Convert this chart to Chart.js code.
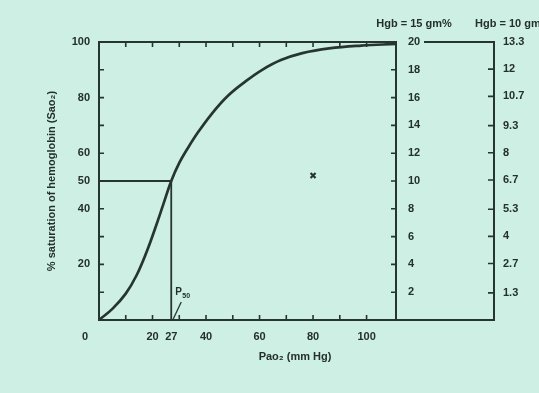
<!DOCTYPE html>
<html><head><meta charset="utf-8">
<script src="https://cdn.jsdelivr.net/npm/chart.js@4.4.1/dist/chart.umd.min.js"></script>
<style>html,body{margin:0;padding:0;background:#ceefe4;}#wrap{width:539px;height:393px;position:relative;}</style>
</head><body><div id="wrap"><canvas id="c"></canvas></div>
<script>
// ---- data ----
const po2 =        [0, 5, 10, 14, 18, 21, 24, 27, 30, 33, 37, 42, 48, 55, 61, 68, 76, 86, 98, 111];
const saturation = [0, 4, 9.5, 16, 25, 33, 41.5, 50, 56.5, 61.5, 67.5, 74, 80.5, 86, 90, 93.5, 96, 97.7, 98.7, 99.3];
const p50 = 27;
const halfSat = 50;
const xTickValues = [0, 20, 27, 40, 60, 80, 100];
const xMinorTicks = [10, 20, 30, 40, 50, 60, 70, 80, 90, 100];
const yTickValues = [20, 40, 50, 60, 80, 100];
const yMinorTicks = [10, 20, 30, 40, 50, 60, 70, 80, 90];
const hgb15Ticks = [2, 4, 6, 8, 10, 12, 14, 16, 18, 20];
const hgb10Ticks = [1.3, 2.7, 4, 5.3, 6.7, 8, 9.3, 10.7, 12, 13.3];
const markX = [80];
const markY = [52];

const ink = '#27352f';
const txt = '#24302c';
const FAM = '"Liberation Sans", Arial, sans-serif';
const tickFont = {family: FAM, size: 11, weight: 'bold'};

const decor = {
  id: 'decor',
  beforeDraw(chart) {
    const c = chart.ctx; c.save(); c.fillStyle = '#ceefe4'; c.fillRect(0, 0, chart.width, chart.height); c.restore();
  },
  afterDraw(chart) {
    const {ctx, chartArea: a, scales} = chart;
    const x = scales.x, y = scales.y, y15 = scales.y15, y10 = scales.y10;
    ctx.save();
    ctx.strokeStyle = ink; ctx.lineCap = 'square';
    ctx.lineWidth = 2;
    ctx.strokeRect(a.left, a.top, a.right - a.left, a.bottom - a.top);
    ctx.beginPath();
    ctx.moveTo(a.right, a.bottom); ctx.lineTo(y10.left, a.bottom);
    ctx.moveTo(y15.left + 29, a.top); ctx.lineTo(y10.left, a.top);
    ctx.stroke();
    ctx.lineWidth = 1.6; ctx.lineCap = 'butt';
    ctx.beginPath();
    xMinorTicks.forEach(v => {
      const px = x.getPixelForValue(v);
      ctx.moveTo(px, a.bottom); ctx.lineTo(px, a.bottom - 5);
      ctx.moveTo(px, a.top); ctx.lineTo(px, a.top + 5);
    });
    yMinorTicks.forEach(v => {
      const py = y.getPixelForValue(v);
      ctx.moveTo(a.left, py); ctx.lineTo(a.left + 5, py);
    });
    hgb15Ticks.slice(0, -1).forEach(v => {
      const py = y15.getPixelForValue(v);
      ctx.moveTo(y15.left, py); ctx.lineTo(y15.left - 5, py);
    });
    hgb10Ticks.slice(0, -1).forEach(v => {
      const py = y10.getPixelForValue(v);
      ctx.moveTo(y10.left, py); ctx.lineTo(y10.left - 6, py);
    });
    ctx.stroke();

    // texts
    ctx.fillStyle = txt;
    ctx.font = 'bold 11px ' + FAM;
    ctx.textBaseline = 'middle';
    ctx.textAlign = 'center';
    ctx.fillText('Hgb = 15 gm%', y15.left + 18, 24);
    ctx.textAlign = 'left';
    ctx.fillText('Hgb = 10 gm%', y10.left - 19, 24);
    ctx.textAlign = 'center';
    ctx.fillText(String(xTickValues[0]), x.getPixelForValue(xTickValues[0]) - 14, a.bottom + 17);

    // P50 label with pointer
    const px27 = x.getPixelForValue(p50), py0 = y.getPixelForValue(0);
    ctx.textBaseline = 'alphabetic'; ctx.textAlign = 'left';
    ctx.font = 'bold 10px ' + FAM;
    ctx.fillText('P', px27 + 4, py0 - 25);
    ctx.font = 'bold 7px ' + FAM;
    ctx.fillText('50', px27 + 11, py0 - 22);
    ctx.lineWidth = 1.3;
    ctx.beginPath();
    ctx.moveTo(px27 + 2, py0 - 1); ctx.lineTo(px27 + 10, py0 - 18);
    ctx.stroke();
    ctx.restore();
  }
};

new Chart(document.getElementById('c'), {
  type: 'scatter',
  data: {
    datasets: [
      {data: po2.map((v, i) => ({x: v, y: saturation[i]})), showLine: true, borderColor: ink, borderWidth: 2.7,
       pointRadius: 0, tension: 0.4, fill: false},
      {data: [{x: 0, y: halfSat}, {x: p50, y: halfSat}, {x: p50, y: 0}], showLine: true, borderColor: ink,
       borderWidth: 1.8, pointRadius: 0, tension: 0},
      {data: markX.map((v, i) => ({x: v, y: markY[i]})), pointStyle: 'crossRot', pointRadius: 3.5,
       borderColor: ink, borderWidth: 2.2, backgroundColor: ink}
    ]
  },
  options: {
    responsive: true, maintainAspectRatio: false, animation: false,
    layout: {padding: {left: 51, right: 0, top: 42, bottom: 29.4}},
    plugins: {
      legend: {display: false}, tooltip: {enabled: false},
      title: {display: true, position: 'bottom', text: 'Pao₂ (mm Hg)', color: txt,
              font: {family: FAM, size: 11, weight: 'bold'}, padding: {top: 0, bottom: 0}}
    },
    scales: {
      x: {type: 'linear', min: 0, max: 111,
          grid: {display: false, drawTicks: false}, border: {display: false},
          afterBuildTicks: s => { s.ticks = xTickValues.slice(1).map(v => ({value: v})); },
          ticks: {font: tickFont, color: txt, padding: 10, autoSkip: false, maxRotation: 0},
          afterFit: s => { s.height = 30.4; }},
      y: {type: 'linear', position: 'left', min: 0, max: 100,
          grid: {display: false, drawTicks: false}, border: {display: false},
          afterBuildTicks: s => { s.ticks = yTickValues.map(v => ({value: v})); },
          ticks: {font: tickFont, color: txt, padding: 9},
          title: {display: true, text: '% saturation of hemoglobin (Sao₂)', color: txt,
                  font: {family: FAM, size: 11, weight: 'bold'}, padding: {top: -6, bottom: 0}},
          afterFit: s => { s.width = 48; }},
      y15: {type: 'linear', position: 'right', min: 0, max: 20,
          grid: {display: false, drawTicks: false}, border: {display: true, color: ink, width: 2},
          afterBuildTicks: s => { s.ticks = hgb15Ticks.map(v => ({value: v})); },
          ticks: {font: tickFont, color: txt, padding: 12},
          afterFit: s => { s.width = 98; }},
      y10: {type: 'linear', position: 'right', min: 0, max: 13.3,
          grid: {display: false, drawTicks: false}, border: {display: true, color: ink, width: 2},
          afterBuildTicks: s => { s.ticks = hgb10Ticks.map(v => ({value: v})); },
          ticks: {font: tickFont, color: txt, padding: 9, callback: v => String(v)},
          afterFit: s => { s.width = 45; }}
    }
  },
  plugins: [decor]
});
</script>
</body></html>
